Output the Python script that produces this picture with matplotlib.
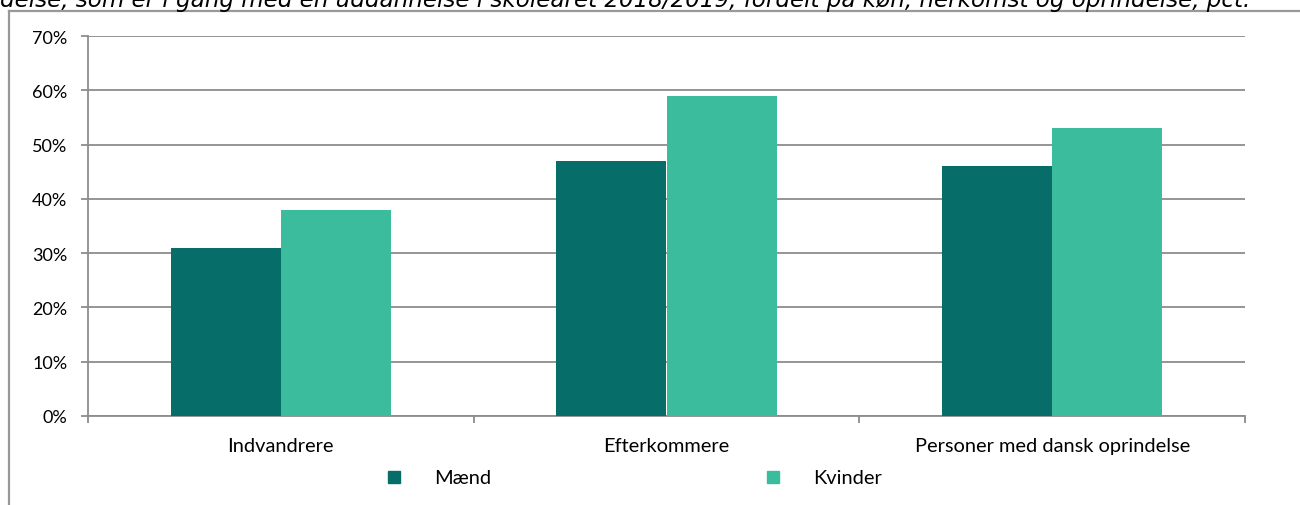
import numpy as np
import matplotlib
matplotlib.use("Agg")
import matplotlib.pyplot as plt
from matplotlib.lines import Line2D
from matplotlib.ticker import FuncFormatter, MultipleLocator

categories = ["Indvandrere", "Efterkommere", "Personer med dansk oprindelse"]
maend = [31, 47, 46]
kvinder = [38, 59, 53]
series_names = ["Mænd", "Kvinder"]
colors = ["#066D68", "#3BBC9C"]
title = ("delse, som er i gang med en uddannelse i skoleåret 2018/2019, "
         "fordelt på køn, herkomst og oprindelse, pct.")

plt.rcParams['font.family'] = ['Lato', 'DejaVu Sans']
grid_col = "#8c8c8c"

fig = plt.figure(figsize=(13, 5.06), dpi=100)
W, H = 1300, 506
ax = fig.add_axes([88 / W, 1 - 417 / H, (1245 - 88) / W, (417 - 37) / H])

x = np.arange(len(categories))
bw = 0.286
ax.bar(x - bw / 2, maend, bw, color=colors[0], zorder=3)
ax.bar(x + bw / 2, kvinder, bw, color=colors[1], zorder=3)

ax.set_xlim(-0.5, len(categories) - 0.5)
ax.set_ylim(0, 70)
ax.yaxis.set_major_locator(MultipleLocator(10))
ax.yaxis.set_major_formatter(FuncFormatter(lambda v, p: f"{v:.0f}%"))
ax.grid(axis='y', color=grid_col, linewidth=1.3, zorder=0)
ax.set_axisbelow(True)

# ticks at the category boundaries, labels at the centres
ax.set_xticks(np.arange(-0.5, len(categories)), minor=False)
ax.set_xticklabels([])
ax.set_xticks(x, minor=True)
ax.set_xticklabels(categories, minor=True, fontsize=14.4)
ax.tick_params(axis='x', which='minor', length=0, pad=15)
ax.tick_params(axis='x', which='major', length=5, color=grid_col, width=1.3)
ax.tick_params(axis='y', length=5, color=grid_col, width=1.3, labelsize=13, pad=10)

for s in ['top', 'right']:
    ax.spines[s].set_visible(False)
for s in ['left', 'bottom']:
    ax.spines[s].set_color(grid_col)
    ax.spines[s].set_linewidth(1.3)

handles = [Line2D([], [], marker='s', linestyle='none', markersize=9,
                  markerfacecolor=c, markeredgecolor=c) for c in colors]
fig.legend(handles, series_names, loc='center left', bbox_to_anchor=(384 / W, 1 - 479 / H),
           ncol=2, frameon=False, fontsize=14.4, handletextpad=1.5, handlelength=1,
           columnspacing=13.6, borderpad=0, borderaxespad=0)

# outer chart frame (top and left)
fig.add_artist(Line2D([8.5 / W, 8.5 / W], [0, 1 - 12 / H], transform=fig.transFigure,
                      color="#999999", linewidth=1.6))
fig.add_artist(Line2D([8.5 / W, 1], [1 - 12 / H, 1 - 12 / H], transform=fig.transFigure,
                      color="#999999", linewidth=1.6))

# title, cut off at the top as in the cropped page
fig.text(0, 1 - 7 / H, title, ha='left', va='baseline', fontsize=16.6,
         style='italic', family='DejaVu Sans', color='black')

fig.savefig("out.png", dpi=100)
